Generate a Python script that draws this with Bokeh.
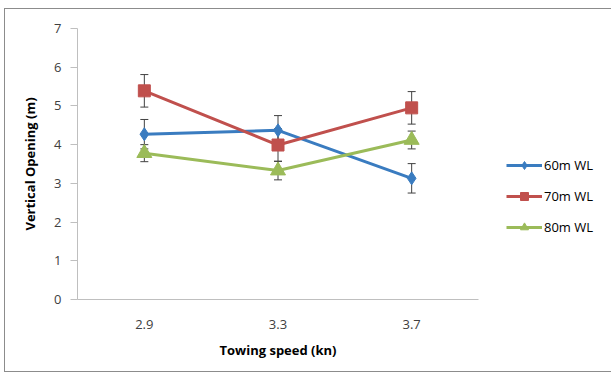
from bokeh.plotting import figure
from bokeh.models import Range1d, FixedTicker, Legend, LegendItem, Whisker, ColumnDataSource
from bokeh.embed import file_html
from bokeh.resources import INLINE

speeds = ["2.9", "3.3", "3.7"]
wl60 = [4.27, 4.37, 3.13]
wl60_err = [0.38, 0.38, 0.38]
wl70 = [5.39, 3.99, 4.95]
wl70_err = [0.42, 0.42, 0.42]
wl80 = [3.78, 3.33, 4.12]
wl80_err = [0.22, 0.24, 0.23]
names = ["60m WL", "70m WL", "80m WL"]
colors = ["#3a7cc0", "#c0504d", "#9bbb59"]
markers = ["diamond", "square", "triangle"]
y_ticks = [0, 1, 2, 3, 4, 5, 6, 7]

FONT = "Open Sans"

p = figure(frame_width=401, frame_height=271, output_backend="svg", toolbar_location=None,
           x_range=Range1d(0, 3), y_range=Range1d(0, 7),
           min_border_left=72, min_border_top=19, min_border_right=138, min_border_bottom=72)
p.styles = {"border": "1px solid #8c8c8c", "margin-left": "4px", "margin-top": "8px"}
p.outline_line_color = None
p.xgrid.grid_line_color = None
p.ygrid.grid_line_color = None

xs = [i + 0.5 for i in range(len(speeds))]

p.xaxis.ticker = FixedTicker(ticks=xs)
p.xaxis.major_label_overrides = {x: s for x, s in zip(xs, speeds)}
p.xaxis.major_tick_line_color = None
p.xaxis.minor_tick_line_color = None
p.xaxis.axis_line_color = "#bfbfbf"
p.xaxis.axis_label = "Towing speed (kn)"
p.xaxis.major_label_standoff = 14

p.yaxis.ticker = FixedTicker(ticks=y_ticks)
p.yaxis.minor_tick_line_color = None
p.yaxis.axis_line_color = "#bfbfbf"
p.yaxis.major_tick_line_color = "#bfbfbf"
p.yaxis.major_tick_in = 0
p.yaxis.major_tick_out = 7
p.yaxis.axis_label = "Vertical Opening (m)"
p.yaxis.major_label_standoff = 9

for ax in (p.xaxis, p.yaxis):
    ax.major_label_text_font = FONT
    ax.major_label_text_font_size = "13px"
    ax.major_label_text_color = "#404040"
    ax.axis_label_text_font = FONT
    ax.axis_label_text_font_size = "13px"
    ax.axis_label_text_font_style = "bold"
    ax.axis_label_text_color = "#000000"
p.xaxis.axis_label_standoff = 9
p.yaxis.axis_label_standoff = 12

items = []
for vals, errs, name, col, mk in zip([wl60, wl70, wl80], [wl60_err, wl70_err, wl80_err], names, colors, markers):
    src = ColumnDataSource(dict(x=xs, y=vals,
                                lo=[v - e for v, e in zip(vals, errs)],
                                hi=[v + e for v, e in zip(vals, errs)]))
    w = Whisker(base="x", lower="lo", upper="hi", source=src, line_color="#404040", line_width=1)
    w.upper_head.size = 8
    w.lower_head.size = 8
    w.upper_head.line_color = "#404040"
    w.lower_head.line_color = "#404040"
    p.add_layout(w)
    ln = p.line("x", "y", source=src, line_color=col, line_width=3)
    size = 13 if mk == "diamond" else (15 if mk == "triangle" else 12)
    sc = p.scatter("x", "y", source=src, marker=mk, size=size, fill_color=col, line_color=col)
    items.append(LegendItem(label=name, renderers=[ln, sc]))

legend = Legend(items=items, location=(28, 62), label_text_font=FONT, label_text_font_size="13px",
                label_text_color="#000000", border_line_color=None, background_fill_alpha=0,
                spacing=11, glyph_width=36, label_standoff=2, padding=4, margin=0)
p.add_layout(legend, "right")

open("out.html", "w").write(file_html(p, INLINE))
